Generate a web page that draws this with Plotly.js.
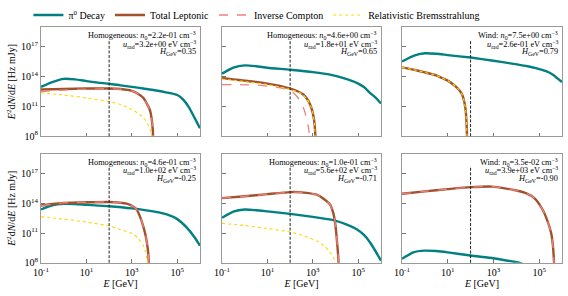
<!DOCTYPE html>
<html><head><meta charset="utf-8">
<script src="https://cdn.plot.ly/plotly-3.0.1.min.js"></script>
<style>html,body{margin:0;padding:0;background:#fff}#plot{width:568px;height:296px}</style>
</head><body><div id="plot"></div>
<script>
// ---- Panel 1 (Homogeneous, H=0.35)
const p1PiE = [0.1,0.316,1,3.16,10,31.6,100,316,1000,3162,1e4,3.16e4,1e5,1.78e5,3.16e5,5.62e5,1e6];
const p1Pi  = [9.33e12,2.82e13,5.89e13,5.25e13,3.55e13,2.51e13,1.91e13,1.32e13,9.33e12,6.31e12,4.27e12,2.63e12,1.41e12,5.01e11,8.91e10,7.94e9,6.31e8];
const p1LepE = [0.1,1,10,100,316,1000,1778,3162,5012,6310,7413,8318,8710];
const p1Lep  = [5.01e12,5.62e12,6.31e12,6.31e12,5.62e12,3.72e12,2.0e12,7.41e11,1.26e11,3.98e10,6.31e9,5.01e8,3.16e7];
const p1IC   = [3.16e12,4.47e12,5.62e12,6.03e12,5.50e12,3.63e12,2.0e12,7.41e11,1.26e11,3.98e10,6.31e9,5.01e8,3.16e7];
const p1BrE = [0.1,1,10,100,316,1000,3162,5623,7079,7943];
const p1Br  = [2.34e12,1.41e12,7.08e11,3.02e11,1.58e11,5.01e10,7.94e9,1.0e9,2.51e8,3.16e7];

// ---- Panel 2 (Homogeneous, H=0.65)
const p2PiE = [0.1,0.316,1,3.16,10,100,1000,5754,3.16e4,1e5,1.78e5,3.16e5,5.62e5,1e6];
const p2Pi  = [1.95e14,7.94e14,1.35e15,1.12e15,7.94e14,4.90e14,2.82e14,1.58e14,5.62e13,2.0e13,8.91e12,2.51e12,7.94e11,2.0e11];
const p2LepE = [0.1,0.316,1,3.16,10,31.6,100,200,380,562,759,955,1122,1259,1318];
const p2Lep  = [7.24e13,5.25e13,3.98e13,2.95e13,2.0e13,1.26e13,6.31e12,3.55e12,1.58e12,5.62e11,1.58e11,3.16e10,5.01e9,3.16e8,3.16e7];
const p2ICE = [0.1,0.316,1,3.16,10,31.6,100,200,380,562,676,724];
const p2IC  = [1.58e13,1.58e13,1.51e13,1.41e13,1.12e13,7.94e12,3.98e12,1.0e12,7.94e10,3.98e9,3.16e8,3.16e7];
const p2BrE = [0.1,1,10,100,316,562,794,1000,1175,1288];
const p2Br  = [5.62e13,3.16e13,1.58e13,5.25e12,2.0e12,5.01e11,1.26e11,2.0e10,2.0e9,3.16e7];

// ---- Panel 3 (Wind, H=0.79)
const p3PiE = [0.1,0.316,1,3.16,10,100,1000,4786,3.16e4,7.24e4,2e5,3.98e5,1e6];
const p3Pi  = [3.31e15,1.26e16,2.24e16,2.0e16,1.48e16,8.32e15,3.98e15,2.29e15,1.12e15,7.24e14,3.55e14,1.58e14,2.82e13];
const p3LepE = [0.1,0.316,1,3.16,5.62,10,21.4,31.6,42.7,52.5,60.3,66.1,69.2,70.8];
const p3Lep  = [8.51e14,5.01e14,2.69e14,1.32e14,7.24e13,3.98e13,1.10e13,4.47e12,1.58e12,3.16e11,5.01e10,3.16e9,2.0e8,3.16e7];
const p3Br   = [8.51e14,5.01e14,2.69e14,1.32e14,7.24e13,3.98e13,1.10e13,4.47e12,1.58e12,3.16e11,5.01e10,3.16e9,2.0e8,3.16e7];

// ---- Panel 4 (Homogeneous, H=-0.25)
const p4PiE = [0.1,0.316,1,3.16,10,100,1000,1e4,3.47e4,1e5,2.63e5,5.62e5,1e6];
const p4Pi  = [2.34e13,6.31e13,8.91e13,8.51e13,7.08e13,5.01e13,3.02e13,1.41e13,7.41e12,2.51e12,3.47e11,3.98e10,5.25e9];
const p4LepE = [0.1,0.316,1,10,100,316,589,1000,1622,2239,3162,3981,4571,5248,5754];
const p4Lep  = [5.89e13,8.32e13,1.07e14,1.26e14,1.35e14,1.12e14,9.12e13,5.62e13,2.34e13,5.01e12,5.01e11,6.31e10,1.12e10,1.0e9,3.16e7];
const p4IC   = [5.50e13,7.94e13,1.07e14,1.26e14,1.35e14,1.12e14,9.12e13,5.62e13,2.34e13,5.01e12,5.01e11,6.31e10,1.12e10,1.0e9,3.16e7];
const p4BrE = [0.1,1,10,100,316,1175,1995,3162,3981,4571,5012];
const p4Br  = [4.27e12,2.51e12,1.26e12,5.13e11,2.24e11,7.59e10,2.51e10,5.25e9,1.26e9,2.51e8,3.16e7];

// ---- Panel 5 (Homogeneous, H=-0.71)
const p5PiE = [0.1,0.316,1,3.16,10,100,1000,7943,3.16e4,8.51e4,1.78e5,3.31e5,5.62e5,1e6];
const p5Pi  = [3.39e12,1.41e13,2.34e13,2.0e13,1.51e13,8.51e12,4.17e12,2.0e12,7.08e11,2.40e11,6.31e10,1.12e10,1.58e9,1.58e8];
const p5LepE = [0.1,1,10,100,316,1479,3162,5754,7943,9550,1.07e4,1.20e4,1.32e4,1.38e4];
const p5Lep  = [3.31e14,5.01e14,8.32e14,1.32e15,1.26e15,7.24e14,2.51e14,7.24e13,1.0e13,1.10e12,1.0e11,5.25e9,3.16e8,3.16e7];
const p5IC   = [3.31e14,5.01e14,8.32e14,1.32e15,1.26e15,7.24e14,2.51e14,7.24e13,1.0e13,1.10e12,1.0e11,5.25e9,3.16e8,3.16e7];
const p5BrE = [0.1,1,10,100,316,1479,3162,5754,8913,1e4];
const p5Br  = [9.33e11,5.62e11,2.82e11,1.26e11,6.31e10,1.58e10,5.01e9,1.12e9,2.0e8,3.16e7];

// ---- Panel 6 (Wind, H=-0.90)
const p6PiE = [0.1,0.316,1,3.16,10,100,1000,2455,1.32e4,2e4];
const p6Pi  = [2.51e8,1.12e9,1.66e9,1.51e9,1.12e9,5.37e8,2.82e8,2.0e8,1.0e8,7.08e7];
const p6LepE = [0.1,1,10,100,891,3162,1e4,2.63e4,6.31e4,1.41e5,2.24e5,3.31e5,3.98e5,4.37e5,4.57e5];
const p6Lep  = [9.12e14,1.58e15,2.63e15,4.17e15,4.79e15,3.16e15,1.91e15,1.05e15,3.16e14,2.34e13,2.0e12,1.10e11,6.31e9,3.16e8,3.16e7];
const p6IC   = [9.12e14,1.58e15,2.63e15,4.17e15,4.79e15,3.16e15,1.91e15,1.05e15,3.16e14,2.34e13,2.0e12,1.10e11,6.31e9,3.16e8,3.16e7];

// ---- Panel labels
const models = ["Homogeneous","Homogeneous","Wind","Homogeneous","Homogeneous","Wind"];
const n0Vals = ["2.2e-01","4.6e+00","7.5e+00","4.6e-01","1.0e-01","3.5e-02"];
const uradVals = ["3.2e+00","1.8e+01","2.6e-01","1.0e+02","5.6e+02","3.9e+03"];
const hVals = ["0.35","0.65","0.79","-0.25","-0.71","-0.90"];
const vlineE = 100;

const xTickVals = [0.1,10,1000,1e5];
const xTickText = ["10<sup>-1</sup>","10<sup>1</sup>","10<sup>3</sup>","10<sup>5</sup>"];
const yTickVals = [1e8,1e11,1e14,1e17];
const yTickText = ["10<sup>8</sup>","10<sup>11</sup>","10<sup>14</sup>","10<sup>17</sup>"];

const names = ["π<sup>0</sup> Decay","Total Leptonic","Inverse Compton","Relativistic Bremsstrahlung"];
const cPi = "#008080", cLep = "#a0522d", cIC = "#f08080", cBr = "#ffd700";

const panels = [
  {pi:[p1PiE,p1Pi], lep:[p1LepE,p1Lep], ic:[p1LepE,p1IC], br:[p1BrE,p1Br]},
  {pi:[p2PiE,p2Pi], lep:[p2LepE,p2Lep], ic:[p2ICE,p2IC], br:[p2BrE,p2Br]},
  {pi:[p3PiE,p3Pi], lep:[p3LepE,p3Lep], ic:null, br:[p3LepE,p3Br]},
  {pi:[p4PiE,p4Pi], lep:[p4LepE,p4Lep], ic:[p4LepE,p4IC], br:[p4BrE,p4Br]},
  {pi:[p5PiE,p5Pi], lep:[p5LepE,p5Lep], ic:[p5LepE,p5IC], br:[p5BrE,p5Br]},
  {pi:[p6PiE,p6Pi], lep:[p6LepE,p6Lep], ic:[p6LepE,p6IC], br:null}
];

const W = 568, H = 296;
const colX = [[41,200],[222,381],[402,562]];
const rowY = [[23.3,134],[151.7,262.3]];

const traces = [];
const layout = {
  width: W, height: H, margin:{l:0,r:0,t:0,b:0},
  paper_bgcolor:"#fff", plot_bgcolor:"#fff",
  font:{family:"Liberation Serif, Times New Roman, serif", color:"#000", size:10},
  showlegend:true,
  legend:{orientation:"h", x:0.05, y:1.012, xanchor:"left", yanchor:"top",
          font:{size:10, family:"Liberation Serif, serif"}, bgcolor:"rgba(0,0,0,0)", tracegroupgap:0},
  shapes:[], annotations:[]
};

panels.forEach((p, i) => {
  const r = Math.floor(i/3), c = i%3;
  const ax = i===0 ? "" : String(i+1);
  const xa = "x"+ax, ya = "y"+ax;
  const lineDefs = [
    [p.pi, names[0], {color:cPi, width:2.4}],
    [p.lep, names[1], {color:cLep, width:2.4}],
    [p.ic, names[2], {color:cIC, width:1.3, dash:"dash"}],
    [p.br, names[3], {color:cBr, width:1.1, dash:"dot"}]
  ];
  lineDefs.forEach((d, k) => {
    if (!d[0]) return;
    traces.push({x:d[0][0], y:d[0][1], type:"scatter", mode:"lines", name:d[1],
      xaxis:xa, yaxis:ya, legendgroup:"g"+k, showlegend:i===0,
      line:Object.assign({shape:"spline", smoothing:0.6}, d[2]), hoverinfo:"skip"});
  });
  layout["xaxis"+ax] = {
    type:"log", range:[-1,6], domain:[colX[c][0]/W, colX[c][1]/W], anchor:ya,
    showgrid:false, zeroline:false, showline:true, mirror:true, linecolor:"#9a9a9a", linewidth:1,
    ticks:"inside", ticklen:3.5, tickwidth:0.8, tickcolor:"#555",
    tickvals:xTickVals, ticktext:xTickText, showticklabels:r===1,
    tickfont:{size:10},
    title: r===1 ? {text:"<i>E</i> [GeV]", font:{size:10}, standoff:2} : undefined
  };
  layout["yaxis"+ax] = {
    type:"log", range:[8,19], domain:[1-rowY[r][1]/H, 1-rowY[r][0]/H], anchor:xa,
    showgrid:false, zeroline:false, showline:true, mirror:true, linecolor:"#9a9a9a", linewidth:1,
    ticks:"inside", ticklen:3.5, tickwidth:0.8, tickcolor:"#555",
    tickvals:yTickVals, ticktext:yTickText, showticklabels:c===0,
    tickfont:{size:10},
    title: c===0 ? {text:"<i>E</i><sup>2</sup>d<i>N</i>/d<i>E</i> [Hz mJy]", font:{size:10}, standoff:3} : undefined
  };
  layout.shapes.push({type:"line", xref:xa, yref:ya+" domain", x0:vlineE, x1:vlineE, y0:0, y1:0.88,
    line:{color:"#222", width:1, dash:"3px,1.6px"}});
  const lines = [
    models[i]+": <i>n</i><sub>0</sub>="+n0Vals[i]+" cm<sup>−3</sup>",
    "<i>u</i><sub>rad</sub>="+uradVals[i]+" eV cm<sup>−3</sup>",
    "<i>H</i><sub>GeV</sub>="+hVals[i]
  ];
  const ys = [0.918, 0.842, 0.772];
  lines.forEach((t, k) => {
    layout.annotations.push({text:t, xref:xa+" domain", yref:ya+" domain", x:0.985, y:ys[k],
      xanchor:"right", yanchor:"middle", showarrow:false, font:{size:8.3}, bgcolor:"rgba(255,255,255,0)"});
  });
});

Plotly.newPlot("plot", traces, layout, {displayModeBar:false, staticPlot:true});
</script></body></html>
